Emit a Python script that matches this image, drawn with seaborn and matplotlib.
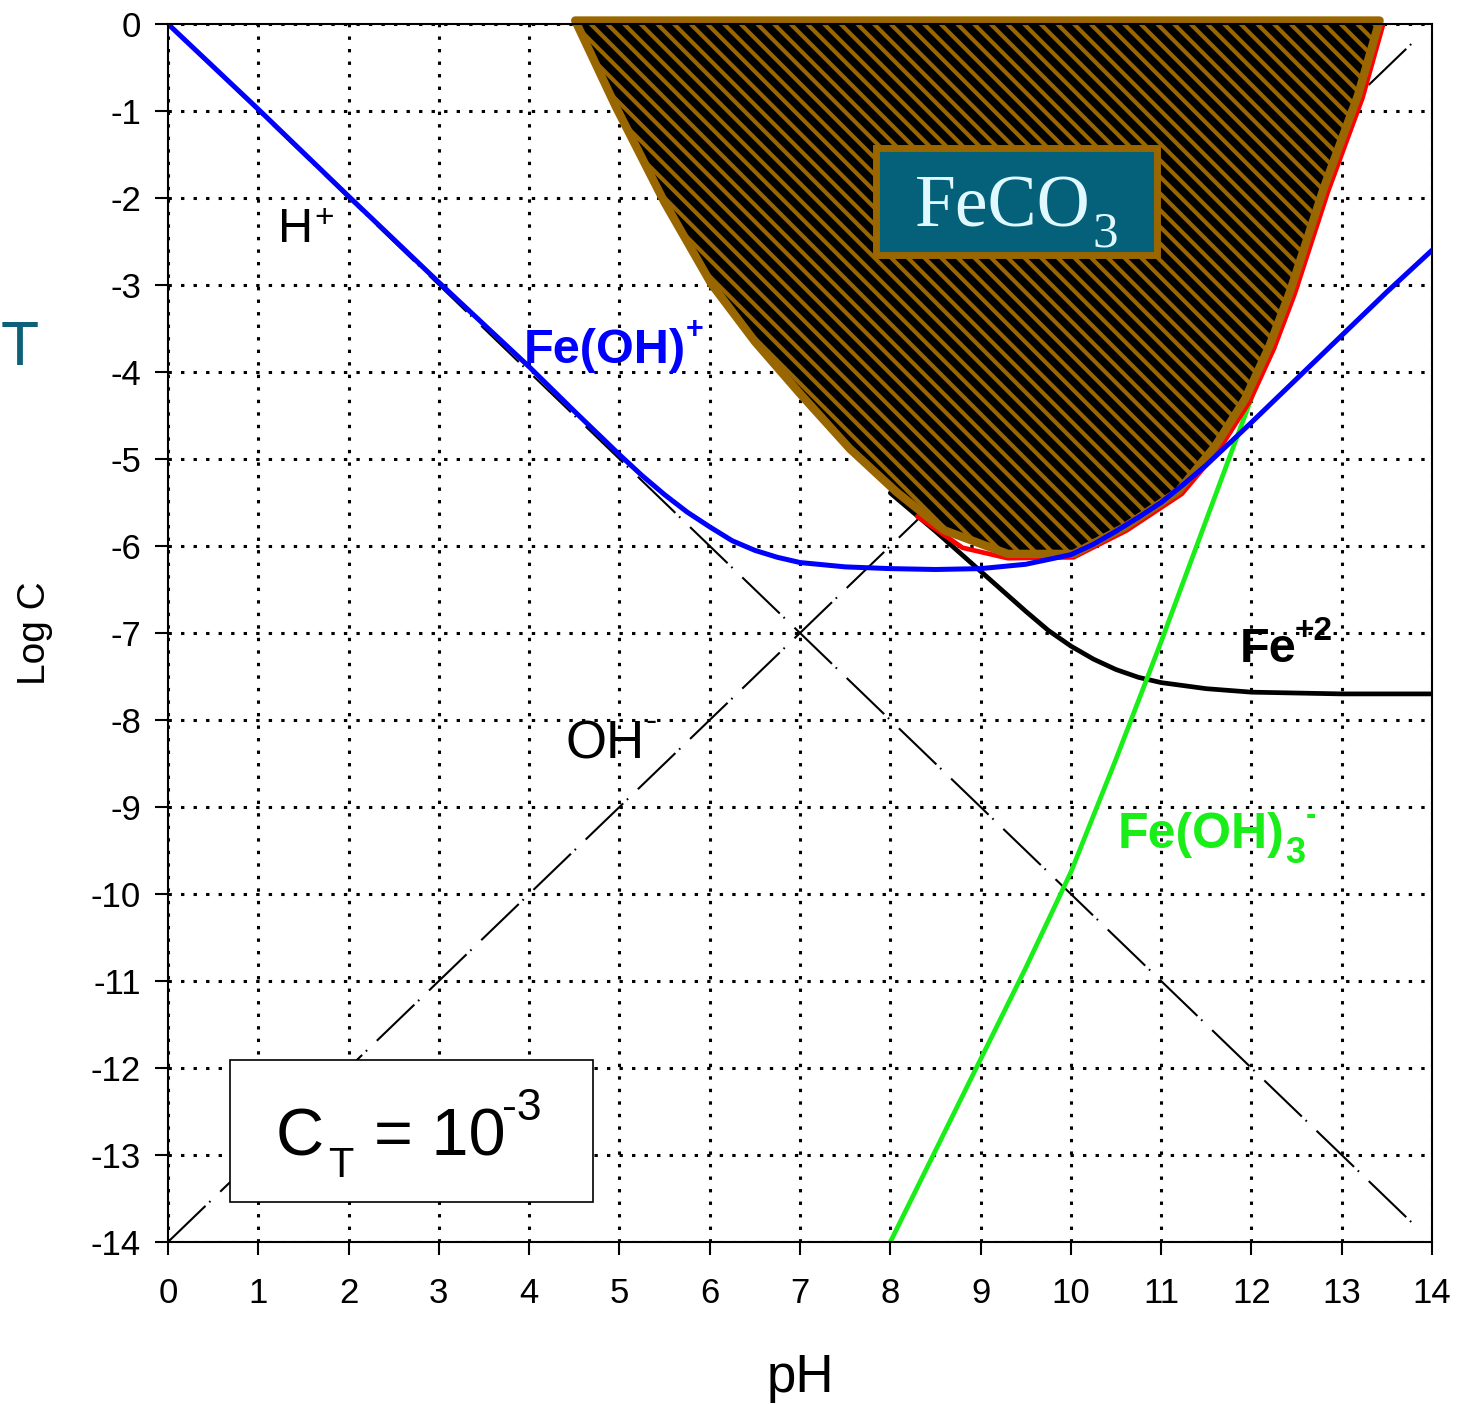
import numpy as np
import pandas as pd
import matplotlib
matplotlib.use("Agg")
import matplotlib.pyplot as plt
import matplotlib.patches as mpatches
import seaborn as sns

# ---------------- data ----------------
ph_ticks = list(range(0, 15))
logc_ticks = list(range(-14, 1))

# H+ and OH- reference lines
ph_h = [0.0, 13.87]
logc_h = [0.0, -13.87]
ph_oh = [0.0, 13.87]
logc_oh = [-14.0, -0.13]

# Fe(OH)+ (blue)
ph_feoh = [0, 1, 2, 3, 4, 4.5, 5, 5.25, 5.5, 5.75, 6, 6.25, 6.5, 6.75, 7, 7.5,
           8, 8.5, 9, 9.5, 10, 10.25, 10.5, 10.75, 11, 11.25, 11.5, 12, 12.5,
           13, 13.5, 14]
logc_feoh = [0, -0.98, -1.98, -2.97, -3.94, -4.45, -4.95, -5.19, -5.41, -5.61,
             -5.78, -5.94, -6.05, -6.13, -6.19, -6.24, -6.26, -6.27, -6.26,
             -6.21, -6.1, -5.98, -5.83, -5.67, -5.5, -5.29, -5.07, -4.58,
             -4.08, -3.58, -3.08, -2.6]

# Fe+2 (black)
ph_fe2 = [8.0, 8.5, 9.0, 9.5, 9.75, 10.0, 10.25, 10.5, 10.75, 11.0, 11.5,
          12.0, 13.0, 14.0]
logc_fe2 = [-5.39, -5.83, -6.29, -6.75, -6.97, -7.15, -7.3, -7.42, -7.51,
            -7.57, -7.64, -7.68, -7.7, -7.7]

# Fe(OH)3- (green)
ph_feoh3 = [8.0, 8.5, 9.0, 9.5, 10.0, 10.5, 11.0, 11.5, 12.0, 12.5, 12.8,
            13.2, 13.4]
logc_feoh3 = [-14.0, -12.95, -11.9, -10.85, -9.75, -8.45, -7.1, -5.7, -4.3,
              -2.9, -1.95, -0.7, -0.1]

# total Fe (red)
ph_tot = [8.3, 8.8, 9.3, 10.03, 10.62, 11.23, 11.65, 11.98, 12.25, 12.48,
          12.85, 13.23, 13.46]
logc_tot = [-5.66, -6.02, -6.14, -6.13, -5.82, -5.4, -4.88, -4.34, -3.73,
            -3.1, -1.92, -0.85, 0.0]

# FeCO3 precipitation region
ph_feco3 = [4.51, 4.96, 5.5, 6.02, 6.5, 7.01, 7.55, 8.07, 8.6, 9.3, 10.03,
            10.6, 11.19, 11.6, 11.93, 12.2, 12.43, 12.8, 13.18, 13.42]
logc_feco3 = [0.04, -0.95, -2.05, -2.99, -3.65, -4.26, -4.88, -5.38, -5.82,
              -6.09, -6.09, -5.78, -5.37, -4.85, -4.31, -3.7, -3.07, -1.89,
              -0.82, 0.04]

# ---------------- style ----------------
sns.set_style("ticks")
plt.rcParams['font.family'] = ['Liberation Sans', 'DejaVu Sans']
plt.rcParams['axes.unicode_minus'] = False
plt.rcParams['hatch.linewidth'] = 3.0
for k in ['text.color', 'axes.labelcolor', 'xtick.color', 'ytick.color',
          'axes.edgecolor']:
    plt.rcParams[k] = 'black'

BROWN = '#996600'
TEAL = '#05607A'
BLUE = '#0000FF'
GREEN = '#19EE19'
RED = '#FF0000'

fig = plt.figure(figsize=(14.6, 14.04), dpi=100)
ax = fig.add_axes([168 / 1460, 1 - 1242 / 1404, (1432 - 168) / 1460,
                   (1242 - 24) / 1404])

ax.set_xlim(0, 14)
ax.set_ylim(-14, 0)
ax.set_xticks(ph_ticks)
ax.set_yticks(logc_ticks)
ax.set_xticklabels([str(t) for t in ph_ticks])
ax.set_yticklabels([str(t) for t in logc_ticks])
ax.grid(True, color='black', linestyle=(0, (1.1, 3.0)), linewidth=2.2,
        zorder=0)
ax.set_axisbelow(True)
for s in ax.spines.values():
    s.set_linewidth(1.5)
    s.set_color('black')
    s.set_zorder(7)
ax.tick_params(axis='both', direction='out', length=9.5, width=1.5,
               labelsize=25, colors='black')
ax.tick_params(axis='x', pad=16)
ax.tick_params(axis='y', pad=10)

# reference dashed lines
dash = (0, (25, 2.5, 0.8, 6.5))
ax.plot(ph_h, logc_h, color='black', linewidth=1.5, linestyle=dash, zorder=2)
ax.plot(ph_oh, logc_oh, color='black', linewidth=1.5, linestyle=dash, zorder=2)

# species lines
sns.lineplot(x=ph_fe2, y=logc_fe2, ax=ax, color='black', linewidth=3.4,
             sort=False, estimator=None, zorder=2)
sns.lineplot(x=ph_feoh3, y=logc_feoh3, ax=ax, color=GREEN, linewidth=3.4,
             sort=False, estimator=None, zorder=2)
sns.lineplot(x=ph_tot, y=logc_tot, ax=ax, color=RED, linewidth=3.4,
             sort=False, estimator=None, zorder=2)

# FeCO3 region: black ground with brown diagonal hatch
hatched = ax.fill(ph_feco3, logc_feco3, facecolor='black', edgecolor=BROWN,
                  hatch='\\\\', linewidth=0, zorder=3, clip_on=False)
for p in hatched:
    if hasattr(p, 'set_hatchcolor'):
        p.set_hatchcolor(BROWN)
    if hasattr(p, 'set_hatch_linewidth'):
        p.set_hatch_linewidth(3.0)
ax.fill(ph_feco3, logc_feco3, facecolor='none', edgecolor=BROWN,
        linewidth=6, joinstyle='round', zorder=3.5, clip_on=False)

sns.lineplot(x=ph_feoh, y=logc_feoh, ax=ax, color=BLUE, linewidth=3.6,
             sort=False, estimator=None, zorder=4)

# FeCO3 label box
ax.add_patch(mpatches.Rectangle((7.84, -2.655), 3.11, 1.23, facecolor=TEAL,
                                edgecolor=BROWN, linewidth=5, zorder=5))
serif = ['Liberation Serif', 'DejaVu Serif']
ax.text(8.274, -2.333, 'FeCO', color='#E0F8FF', fontsize=53, family=serif,
        va='baseline', zorder=6)
ax.text(10.234, -2.563, '3', color='#E0F8FF', fontsize=37, family=serif,
        va='baseline', zorder=6)

# C_T box
ax.add_patch(mpatches.Rectangle((0.687, -13.54), 4.02, 1.632,
                                facecolor='white', edgecolor='black',
                                linewidth=1.2, zorder=5))
ax.text(1.196, -13.0, 'C', fontsize=48, va='baseline', zorder=6)
ax.text(1.772, -13.25, 'T', fontsize=30, va='baseline', zorder=6)
ax.text(2.28, -13.0, '= 10', fontsize=48, va='baseline', zorder=6)
ax.text(3.70, -12.6, '-3', fontsize=32, va='baseline', zorder=6)

# species labels
ax.text(1.218, -2.506, 'H', fontsize=35, va='baseline', zorder=6)
ax.text(1.617, -2.333, '+', fontsize=24, va='baseline', zorder=6)

ax.text(4.40, -8.44, 'OH', fontsize=38, va='baseline', zorder=6)
ax.text(5.29, -8.13, '-', fontsize=24, va='baseline', zorder=6)

ax.text(3.94, -3.897, 'Fe(OH)', fontsize=35, fontweight='bold', color=BLUE,
        va='baseline', zorder=6)
ax.text(5.737, -3.61, '+', fontsize=22, fontweight='bold', color=BLUE,
        va='baseline', zorder=6)

ax.text(11.87, -7.33, 'Fe', fontsize=35, fontweight='bold', color='black',
        va='baseline', zorder=6)
ax.text(12.48, -7.08, '+2', fontsize=24, fontweight='bold', color='black',
        va='baseline', zorder=6)

ax.text(10.52, -9.47, 'Fe(OH)', fontsize=36, fontweight='bold', color=GREEN,
        va='baseline', zorder=6)
ax.text(12.37, -9.64, '3', fontsize=26, fontweight='bold', color=GREEN,
        va='baseline', zorder=6)
ax.text(12.6, -9.2, '-', fontsize=22, fontweight='bold', color=GREEN,
        va='baseline', zorder=6)

# axis labels
ax.set_xlabel('pH', fontsize=38, color='black')
ax.xaxis.set_label_coords(0.5, (1242 - 1378) / 1218)
ax.xaxis.label.set_va('center')
ax.set_ylabel('Log C', fontsize=28, color='black')
ax.yaxis.set_label_coords((35 - 168) / 1264, 0.5)
ax.yaxis.label.set_va('center')

# teal letter at the left edge
fig.text(0.5 / 1460, 1 - 365 / 1404, 'T', color='#0C6176', fontsize=45,
         ha='left', va='baseline')

fig.savefig('out.png', dpi=100)
